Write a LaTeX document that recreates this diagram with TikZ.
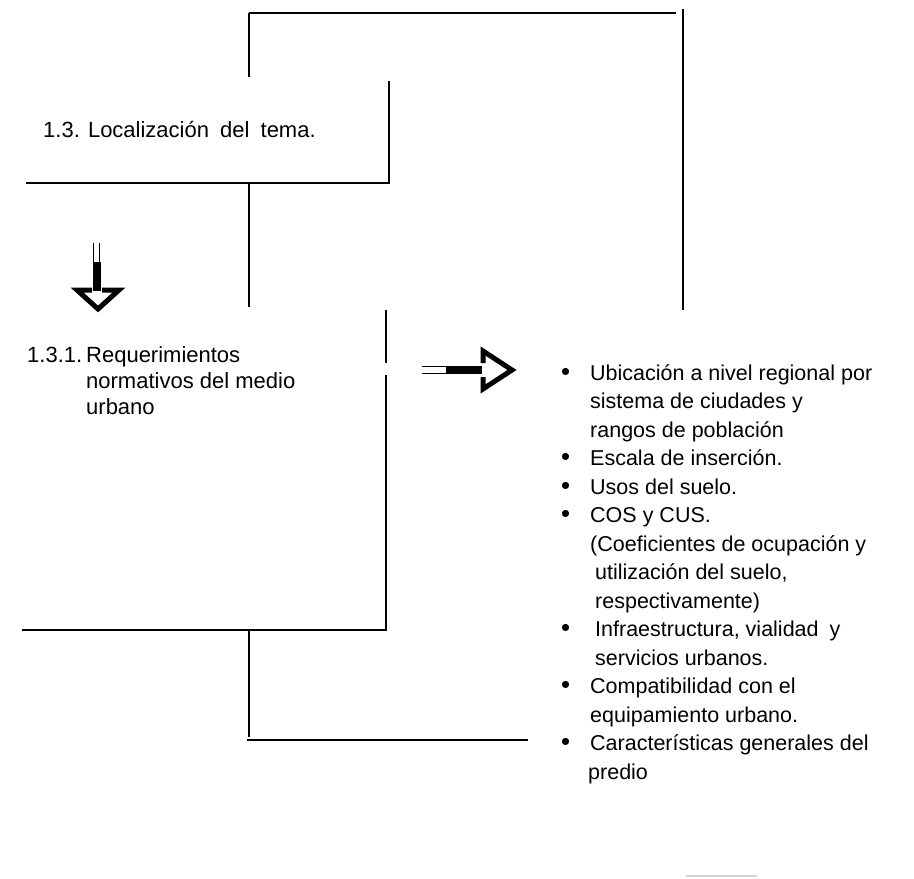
\documentclass[tikz,border=0pt]{standalone}
\usepackage{fontspec}
\setmainfont{Liberation Sans}
\newcommand{\dotmark}{\raisebox{-0.3pt}{\scalebox{1.2}{•}}}
\begin{document}
\begin{tikzpicture}[x=1pt,y=-1pt,
  rule/.style={line width=2.4pt},
  txt/.style={inner sep=0pt, anchor=base west, align=left,
              font=\fontsize{22}{26}\selectfont},
  listtxt/.style={inner sep=0pt, anchor=base west, align=left,
              font=\fontsize{21.5}{28.5}\selectfont},
  headstroke/.style={line width=5pt, line join=miter, line cap=butt},
  thin/.style={line width=0.9pt}]
\useasboundingbox (0,0) rectangle (914,879);

% ---- bracket lines ----
\coordinate (topL) at (249,13);
\coordinate (topR) at (676,13);
\coordinate (stubB) at (249,77);
\coordinate (bigT) at (683,9);
\coordinate (bigB) at (683,310);
\coordinate (boxTR) at (389,81);
\coordinate (boxBR) at (389,183);
\coordinate (boxBL) at (26,183);
\coordinate (midT) at (249,183);
\coordinate (midB) at (249,307);
\coordinate (secT) at (386,310);
\coordinate (secG1) at (386,363);
\coordinate (secG2) at (386,375);
\coordinate (secBR) at (386,630);
\coordinate (secBL) at (22,630);
\coordinate (lowT) at (249,630);
\coordinate (lowB) at (249,737);
\coordinate (footL) at (247,740);
\coordinate (footR) at (528,740);
\coordinate (markL) at (686,876);
\coordinate (markR) at (757,876);

\draw[rule] (topL) -- (topR);
\draw[rule] (topL) -- (stubB);
\draw[rule] (bigT) -- (bigB);
\draw[rule] (boxTR) -- (boxBR) -- (boxBL);
\draw[rule] (midT) -- (midB);
\draw[rule] (secT) -- (secG1);
\draw[rule] (secG2) -- (secBR) -- (secBL);
\draw[rule] (lowT) -- (lowB);
\draw[rule] (footL) -- (footR);
\draw[line width=1.5pt, gray!35] (markL) -- (markR);

% ---- texts ----
\node[txt] (tema) at (43,137) {1.3. Localización\hspace{5pt} del\hspace{5pt} tema.};

\node[txt] (req) at (27,362) {\begin{tabular}[t]{@{}p{59pt}@{}l@{}}
1.3.1. & Requerimientos\\
       & normativos del medio\\
       & urbano
\end{tabular}};

\node[listtxt] (lista) at (561,380) {\begin{tabular}[t]{@{}p{29pt}@{}l@{}}
\dotmark & Ubicación a nivel regional por\\
  & sistema de ciudades y\\
  & rangos de población\\
\dotmark & Escala de inserción.\\
\dotmark & Usos del suelo.\\
\dotmark & COS y CUS.\\
  & (Coeficientes de ocupación y\\
  & \hspace{5pt}utilización del suelo,\\
  & \hspace{5pt}respectivamente)\\
\dotmark & \hspace{5pt}Infraestructura, vialidad\hspace{5pt} y\\
  & \hspace{5pt}servicios urbanos.\\
\dotmark & Compatibilidad con el\\
  & equipamiento urbano.\\
\dotmark & Características generales del\\
  & \hspace{-2pt}predio
\end{tabular}};

% ---- down arrow from 1.3 to 1.3.1 ----
\coordinate (dTip) at (98,309);
\draw[thin] (93.5,243) -- (93.5,291);
\draw[thin] (99.5,243) -- (99.5,291);
\fill (92.5,262) rectangle (100.5,291);
\draw[headstroke] (92,290) -- (77,290) -- (dTip) -- (119,290) -- (102,290);

% ---- right arrow towards the list ----
\coordinate (rTip) at (512,370);
\draw[thin] (422,366) -- (482,366);
\draw[thin] (422,373.5) -- (482,373.5);
\fill (446,365.5) rectangle (482,374);
\draw[headstroke] (483,363) -- (483,351) -- (rTip) -- (483,389) -- (483,377);
\end{tikzpicture}
\end{document}
